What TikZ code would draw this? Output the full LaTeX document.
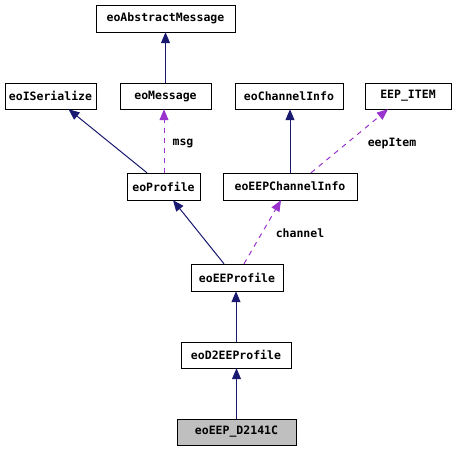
\documentclass[tikz,border=0pt]{standalone}
\usepackage{fontspec}
\setmonofont{DejaVu Sans Mono}
\usepackage{tikz}
\usetikzlibrary{arrows.meta}
\usetikzlibrary{positioning}

\definecolor{inhcol}{RGB}{25,25,112}
\definecolor{usecol}{RGB}{154,50,205}

\tikzset{
  classbox/.style={draw, inner sep=0pt, minimum height=26pt,
    font=\fontsize{11.5}{13}\selectfont\ttfamily\bfseries},
  inherit/.style={draw=inhcol, line width=1pt,
    -{Triangle[length=11pt,width=9pt]}, inhcol},
  usage/.style={draw=usecol, line width=1pt, dash pattern=on 5pt off 5pt,
    -{Triangle[length=11pt,width=9pt]}, usecol},
  edgelabel/.style={font=\fontsize{11.5}{13}\selectfont\ttfamily\bfseries}
}

\begin{document}
\begin{tikzpicture}[x=1pt, y=-1pt]
      \useasboundingbox (0, 0) rectangle (456, 451);

      \node [classbox, minimum width=139pt, minimum height=27pt] (absmsg) at (165.5, 18.5) {eoAbstractMessage};
      \node [classbox, minimum width=91pt] (iserial) at (50.5, 96) {eoISerialize};
      \node [classbox, minimum width=91pt] (message) at (165.5, 96) {eoMessage};
      \node [classbox, minimum width=108pt] (chinfo) at (289, 96) {eoChannelInfo};
      \node [classbox, minimum width=86pt] (eepitem) at (408, 96) {EEP\_ITEM};
      \node [classbox, minimum width=73pt, minimum height=27pt] (profile) at (163.5, 186.5) {eoProfile};
      \node [classbox, minimum width=134pt, minimum height=27pt] (eepchinfo) at (290, 186.5) {eoEEPChannelInfo};
      \node [classbox, minimum width=92pt, minimum height=27pt] (eeprofile) at (237, 277.5) {eoEEProfile};
      \node [classbox, minimum width=110pt] (d2eeprofile) at (236, 355) {eoD2EEProfile};
      \node [classbox, minimum width=119pt, fill=black!25] (d2141c) at (236.5, 432) {eoEEP\_D2141C};

      \draw [inherit] (message.north) -- (message.north |- absmsg.south);
      \draw [inherit] ([xshift=-16.5pt]profile.north) -- ([xshift=18pt]iserial.south);
      \draw [usage] ([xshift=0.5pt]profile.north) -- ([xshift=0.5pt]profile.north |- message.south);
      \draw [inherit] (eepchinfo.north) -- (eepchinfo.north |- chinfo.south);
      \draw [usage] ([xshift=21pt]eepchinfo.north) -- ([xshift=-20pt]eepitem.south);
      \draw [inherit] ([xshift=-13pt]eeprofile.north) -- ([xshift=9.5pt]profile.south);
      \draw [usage] ([xshift=7pt]eeprofile.north) -- ([xshift=-9pt]eepchinfo.south);
      \draw [inherit] (d2eeprofile.north) -- (d2eeprofile.north |- eeprofile.south);
      \draw [inherit] (d2141c.north) -- (d2141c.north |- d2eeprofile.south);

      \node [edgelabel] (msglbl) at (183, 143) {msg};
      \node [edgelabel] (eeplbl) at (392, 143) {eepItem};
      \node [edgelabel] (chlbl) at (300, 233) {channel};
    \end{tikzpicture}
\end{document}
